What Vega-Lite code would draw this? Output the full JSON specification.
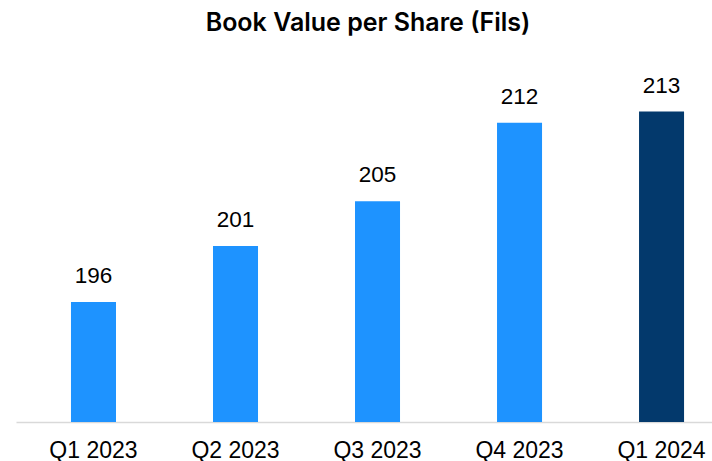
{
  "$schema": "https://vega.github.io/schema/vega-lite/v6.json",
  "width": 696,
  "height": 362,
  "autosize": {"type": "none"},
  "padding": {"left": 16, "top": 60, "right": 0, "bottom": 39},
  "background": "white",
  "title": {
    "text": "Book Value per Share (Fils)",
    "font": "Inter",
    "fontSize": 25,
    "fontWeight": 600,
    "color": "#000000",
    "anchor": "middle",
    "baseline": "alphabetic",
    "offset": 29,
    "dx": 4,
    "dy": 25
  },
  "config": {
    "view": {"stroke": null},
    "font": "Liberation Sans"
  },
  "data": {
    "values": [
      {"quarter": "Q1 2023", "bvps": 196},
      {"quarter": "Q2 2023", "bvps": 201},
      {"quarter": "Q3 2023", "bvps": 205},
      {"quarter": "Q4 2023", "bvps": 212},
      {"quarter": "Q1 2024", "bvps": 213}
    ]
  },
  "encoding": {
    "x": {
      "field": "quarter",
      "type": "nominal",
      "sort": null,
      "scale": {"paddingInner": 0.683, "paddingOuter": 0.292, "align": 0.663},
      "axis": {
        "title": null,
        "labelAngle": 0,
        "labelFontSize": 23,
        "labelColor": "#000000",
        "labelFont": "Liberation Sans",
        "labelPadding": 17,
        "ticks": false,
        "domainColor": "#D9D9D9",
        "domainWidth": 1.5,
        "grid": false
      }
    },
    "y": {
      "field": "bvps",
      "type": "quantitative",
      "scale": {"domain": [185.3, 217.6], "zero": false, "nice": false},
      "axis": null
    }
  },
  "layer": [
    {
      "mark": {"type": "bar", "clip": true},
      "encoding": {
        "color": {
          "field": "quarter",
          "type": "nominal",
          "scale": {
            "domain": ["Q1 2023", "Q2 2023", "Q3 2023", "Q4 2023", "Q1 2024"],
            "range": ["#1E93FF", "#1E93FF", "#1E93FF", "#1E93FF", "#03396C"]
          },
          "legend": null
        }
      }
    },
    {
      "mark": {"type": "text", "baseline": "alphabetic", "dy": -19, "fontSize": 22.5, "font": "Liberation Sans", "color": "#000000"},
      "encoding": {
        "text": {"field": "bvps", "type": "quantitative"}
      }
    }
  ]
}
